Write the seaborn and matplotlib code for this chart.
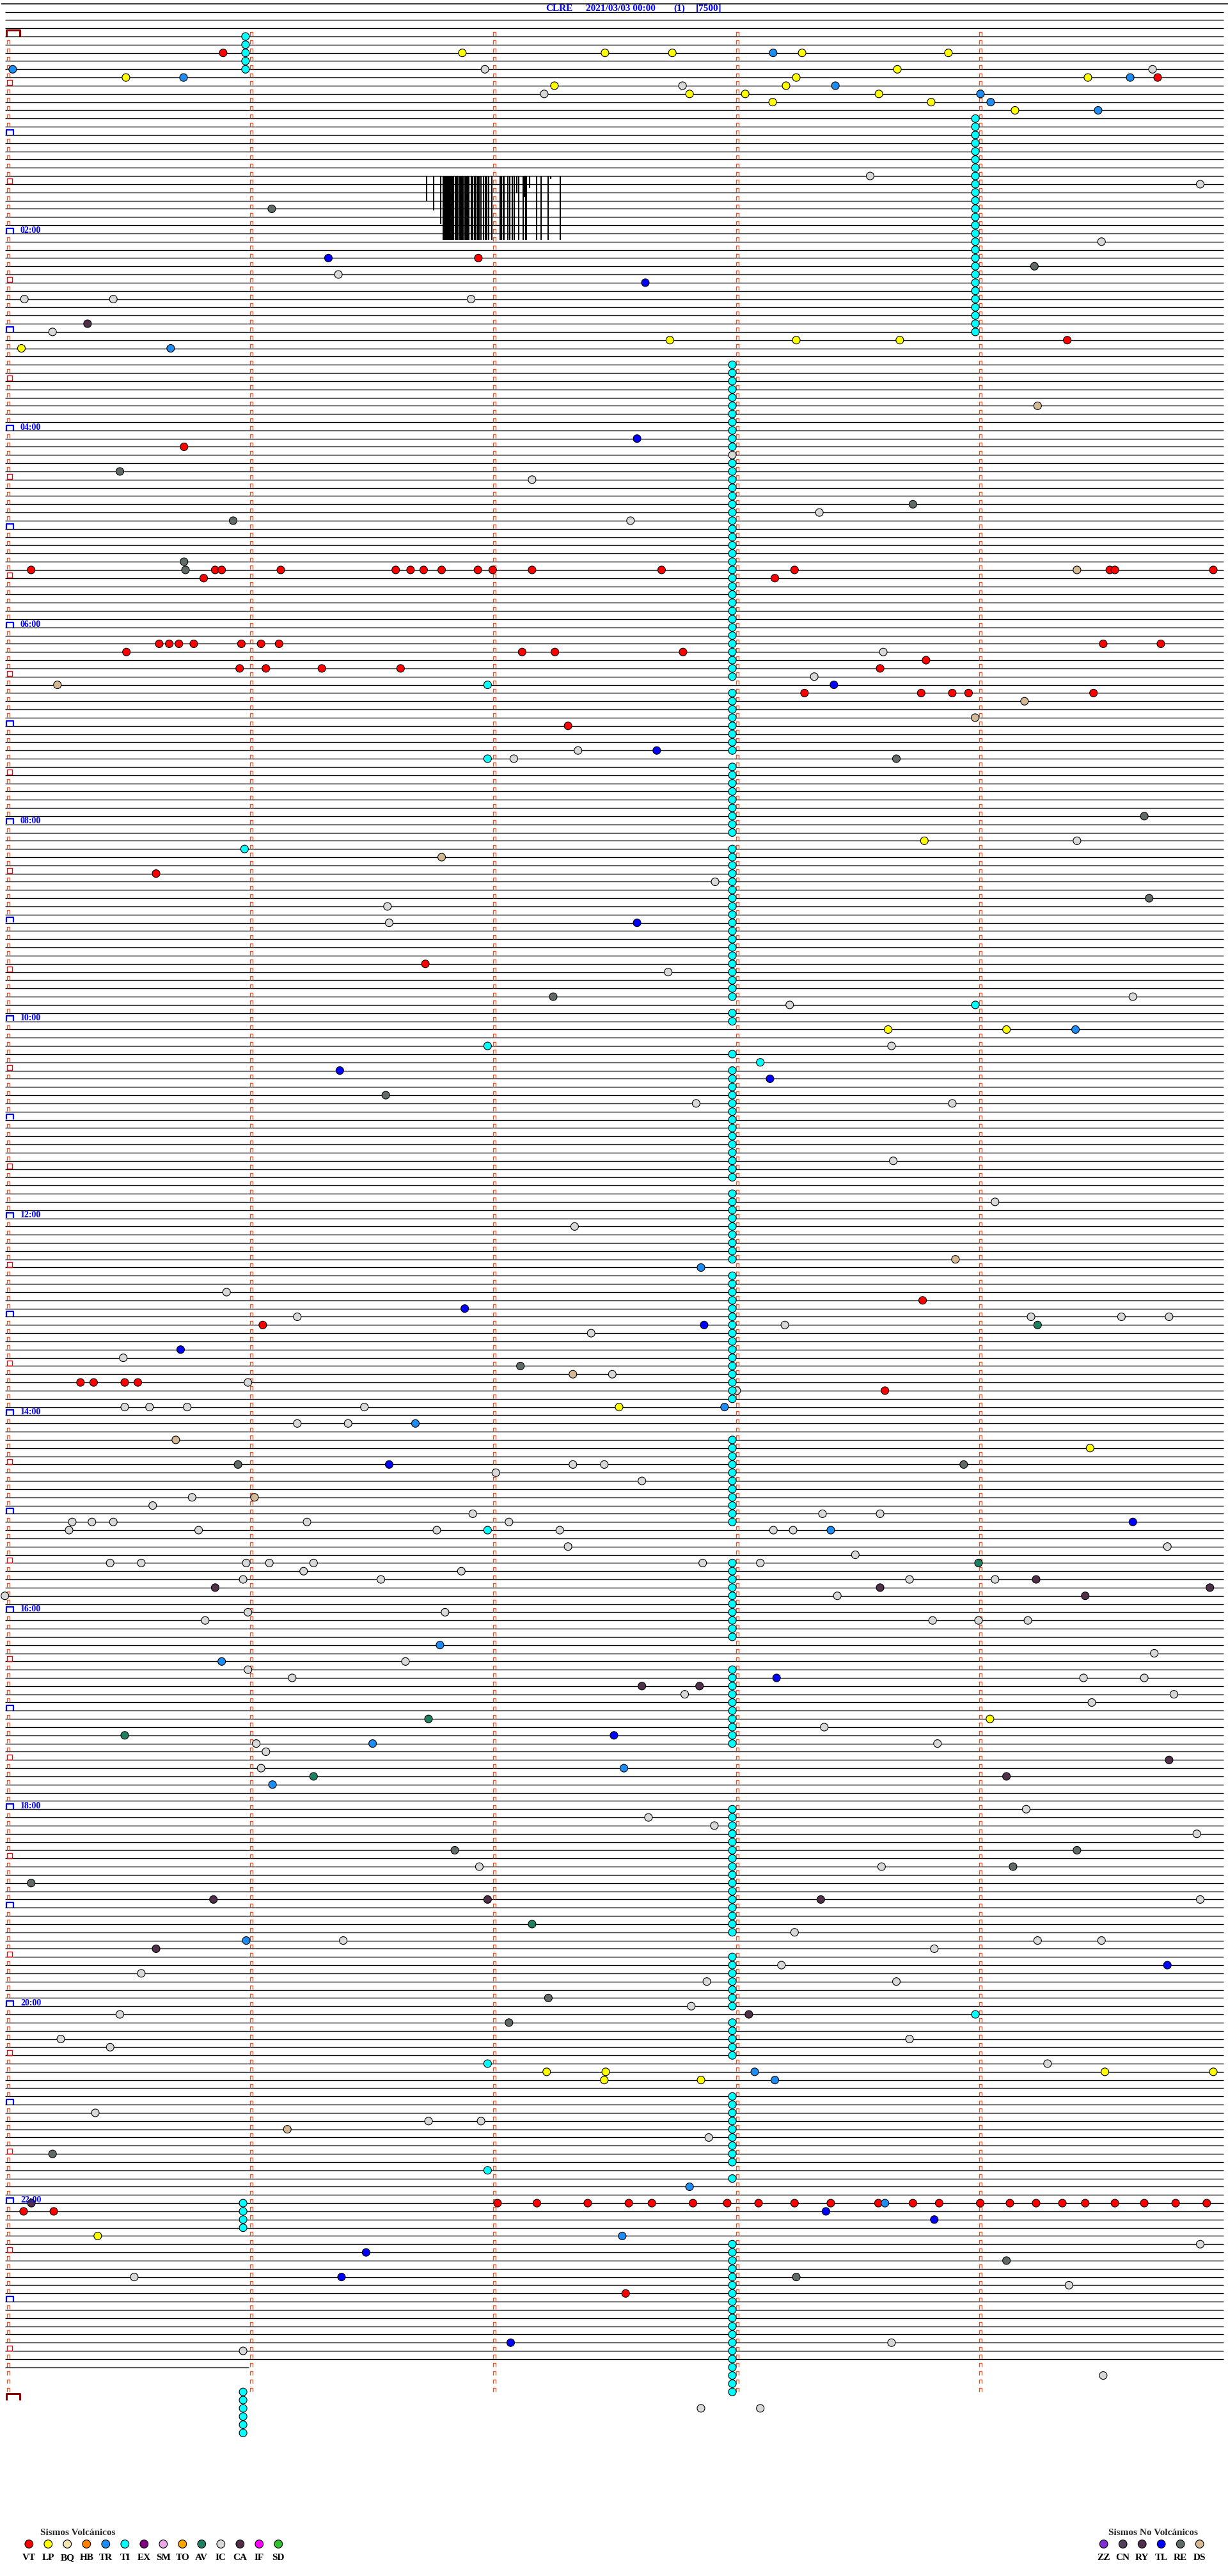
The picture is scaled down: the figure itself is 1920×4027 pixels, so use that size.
import numpy as np
import pandas as pd
import matplotlib
matplotlib.use("Agg")
import matplotlib.pyplot as plt
import seaborn as sns
from matplotlib.path import Path

sns.set_style("white")
plt.rcParams['font.family'] = ['Liberation Serif', 'DejaVu Serif']

# ---------------- data (row = 5-minute trace index from 00:00, minute = offset in row) -----
TITLE_PARTS = ["CLRE", "2021/03/03 00:00", "(1)", "[7500]"]
HOUR_LABELS = ["02:00", "04:00", "06:00", "08:00", "10:00", "12:00",
               "14:00", "16:00", "18:00", "20:00", "22:00"]
VOLC_CODES = ["VT", "LP", "BQ", "HB", "TR", "TI", "EX", "SM", "TO", "AV", "IC", "CA", "IF", "SD"]
NONVOLC_CODES = ["ZZ", "CN", "RY", "TL", "RE", "DS"]
COLORS = {"VT": "#FF0000", "LP": "#FFFF00", "BQ": "#F0E4B0", "HB": "#FF8000",
          "TR": "#1E8CF0", "TI": "#00FFFF", "EX": "#800080", "SM": "#E8A8E8",
          "TO": "#FFA500", "AV": "#1E8060", "IC": "#D8D8D8", "CA": "#503048",
          "IF": "#FF00FF", "SD": "#30C030", "ZZ": "#8030D0", "CN": "#504058",
          "RY": "#503050", "TL": "#0000FF", "RE": "#606A66", "DS": "#D4B894"}

TRACE_FIRST_ROW = -3
TRACE_LAST_ROW = 284
TRACE_LAST_END = 0.99     # minutes recorded in the last (partial) row

VT = [(2, 0.884), (5, 4.729), (27, 1.934), (37, 4.357), (50, 0.723),
      (65, 0.094), (65, 0.851), (65, 0.878), (65, 1.121), (65, 1.594), (65, 1.655),
      (65, 1.709), (65, 1.783), (65, 1.932), (65, 1.993), (65, 2.155), (65, 2.688),
      (65, 3.235), (65, 4.532), (65, 4.553), (65, 4.958), (66, 0.804), (66, 3.154),
      (74, 0.621), (74, 0.662), (74, 0.702), (74, 0.763), (74, 0.959), (74, 1.040),
      (74, 1.114), (74, 4.505), (74, 4.742), (75, 0.486), (75, 2.114), (75, 2.249),
      (75, 2.776), (76, 3.776), (77, 0.952), (77, 1.060), (77, 1.290), (77, 1.614),
      (77, 3.587), (80, 3.276), (80, 3.756), (80, 3.884), (80, 3.951), (80, 4.465),
      (84, 2.303), (102, 0.608), (113, 1.716), (154, 3.762), (157, 1.047),
      (164, 0.297), (164, 0.351), (164, 0.479), (164, 0.533), (165, 3.607),
      (264, 2.013), (264, 2.175), (264, 2.384), (264, 2.553), (264, 2.648), (264, 2.817),
      (264, 2.958), (264, 3.087), (264, 3.235), (264, 3.384), (264, 3.580), (264, 3.722),
      (264, 3.830), (264, 3.999), (264, 4.121), (264, 4.229), (264, 4.337), (264, 4.431),
      (264, 4.553), (264, 4.674), (264, 4.803), (264, 4.931),
      (265, 0.063), (265, 0.187), (275, 2.540)]

LP = [(2, 1.868), (2, 2.455), (2, 2.732), (2, 3.266), (2, 3.868), (4, 3.658),
      (5, 0.484), (5, 3.242), (5, 4.442), (6, 2.247), (6, 3.200), (7, 2.803),
      (7, 3.032), (7, 3.582), (8, 3.145), (8, 3.797), (9, 4.142), (37, 2.722),
      (37, 3.242), (37, 3.668), (38, 0.054), (98, 3.769), (121, 3.620), (121, 4.107),
      (167, 2.513), (172, 4.451), (205, 4.039), (248, 2.215), (248, 2.458),
      (248, 4.512), (248, 4.958), (249, 2.452), (249, 2.850), (268, 0.368)]

TR = [(2, 3.147), (4, 0.018), (5, 0.721), (5, 4.616), (6, 3.403), (7, 4.000),
      (8, 4.042), (9, 4.484), (38, 0.668), (121, 4.391), (150, 2.850), (167, 2.947),
      (169, 1.675), (182, 3.384), (196, 1.776), (198, 0.878), (208, 1.499),
      (211, 2.533), (213, 1.087), (232, 0.979), (248, 3.071), (249, 3.154),
      (262, 2.803), (264, 3.607), (268, 2.526)]

TL = [(27, 1.317), (30, 2.621), (49, 2.587), (79, 3.397), (87, 2.668), (108, 2.587),
      (126, 1.364), (127, 3.134), (155, 1.878), (157, 2.863), (160, 0.709),
      (174, 1.567), (181, 4.627), (200, 3.161), (207, 2.492), (235, 4.769),
      (265, 3.364), (266, 3.810), (270, 1.472), (273, 1.371), (281, 2.067)]

TI_COL_A_MIN = 0.976
TI_COL_A_ROWS = [0, 1, 2, 3, 4]
TI_COL_B_MIN = 3.979
TI_COL_B_ROWS = [10, 11, 12, 13, 14, 15, 16, 17, 18, 19, 20, 21, 22, 23, 24, 25, 26,
                 27, 28, 29, 30, 31, 32, 33, 34, 35, 36]
TI_COL_C_MIN = 2.979
TI_COL_C_ROWS = [40, 41, 42, 43, 44, 45, 46, 47, 48, 49, 50,
                 52, 53, 54, 55, 56, 57, 58, 59, 60, 61, 62, 63, 64, 65, 66, 67, 68, 69,
                 70, 71, 72, 73, 74, 75, 76, 77, 78,
                 80, 81, 82, 83, 84, 85, 86, 87,
                 89, 90, 91, 92, 93, 94, 95, 96, 97,
                 99, 100, 101, 102, 103, 104, 105, 106, 107, 108, 109, 110, 111, 112,
                 113, 114, 115, 116, 117, 119, 120, 124,
                 126, 127, 128, 129, 130, 131, 132, 133, 134, 135, 136, 137, 138, 139,
                 141, 142, 143, 144, 145, 146, 147, 148, 149,
                 151, 152, 153, 154, 155, 156, 157, 158, 159, 160, 161, 162, 163, 164,
                 165, 166,
                 171, 172, 173, 174, 175, 176, 177, 178, 179, 180, 181,
                 186, 187, 188, 189, 190, 191, 192, 193, 194, 195,
                 199, 200, 201, 202, 203, 204, 205, 206, 207, 208,
                 216, 217, 218, 219, 220, 221, 222, 223, 224, 225, 226, 227, 228, 229,
                 230, 231,
                 234, 235, 236, 237, 238, 239, 240,
                 242, 243, 244, 245, 246,
                 251, 252, 253, 254, 255, 256, 257, 258, 259,
                 261,
                 269, 270, 271, 272, 273, 274, 275, 276, 277, 278, 279, 280, 281, 282,
                 283, 284, 285, 286, 287]
TI_COL_D_MIN = 0.966
TI_COL_D_ROWS = [264, 265, 266, 267, 287, 288, 289, 290, 291, 292]
TI_OTHER = [(79, 1.972), (88, 1.972), (99, 0.972), (118, 3.979), (123, 1.972),
            (125, 3.094), (182, 1.972), (241, 3.979), (247, 1.972), (260, 1.972)]

IC = [(4, 1.961), (4, 4.708), (6, 2.774), (7, 2.205), (17, 3.546), (18, 4.904),
      (25, 4.498), (29, 1.358), (32, 0.066), (32, 0.432), (32, 1.904), (36, 0.182),
      (51, 2.979), (54, 2.155), (58, 3.337), (59, 2.560), (75, 3.600), (78, 3.316),
      (87, 2.344), (88, 2.080), (98, 4.397), (103, 2.908), (106, 1.560), (108, 1.567),
      (114, 2.715), (117, 4.627), (118, 3.215), (123, 3.634), (130, 2.830),
      (130, 3.884), (137, 3.641), (142, 4.060), (145, 2.330), (153, 0.898),
      (156, 1.189), (156, 4.208), (156, 4.580), (156, 4.776), (157, 3.195),
      (158, 2.398), (161, 0.473), (163, 2.485), (164, 0.986), (165, 2.997),
      (167, 0.479), (167, 0.581), (167, 0.736), (167, 1.465), (169, 1.189),
      (169, 1.398), (174, 2.323), (174, 2.452), (175, 2.006), (176, 2.607),
      (178, 0.756), (179, 0.594), (180, 1.911), (180, 3.350), (180, 3.587),
      (181, 0.263), (181, 0.344), (181, 0.432), (181, 1.229), (181, 2.060),
      (182, 0.250), (182, 0.783), (182, 1.763), (182, 2.269), (182, 3.148),
      (182, 3.229), (184, 2.303), (184, 4.769), (185, 3.485), (186, 0.419),
      (186, 0.547), (186, 0.979), (186, 1.074), (186, 1.256), (186, 2.857),
      (186, 3.094), (187, 1.215), (187, 1.864), (188, 0.966), (188, 1.533),
      (188, 3.708), (188, 4.060), (190, 3.411), (190, -0.014), (192, 1.797),
      (192, 0.986), (193, 0.810), (193, 3.803), (193, 3.992), (193, 4.195),
      (197, 4.715), (198, 1.634), (199, 0.986), (200, 1.168), (200, 4.424),
      (200, 4.674), (202, 4.796), (202, 2.783), (203, 4.458), (206, 3.357),
      (208, 1.020), (208, 3.823), (209, 1.060), (211, 1.040), (216, 4.188),
      (217, 2.634), (218, 2.905), (219, 4.890), (223, 1.938), (223, 3.593),
      (227, 4.904), (231, 3.235), (232, 1.378), (232, 4.235), (232, 4.498),
      (233, 3.810), (235, 3.181), (236, 0.547), (237, 3.654), (237, 2.874),
      (240, 2.810), (241, 0.459), (244, 0.216), (244, 3.708), (245, 0.419),
      (247, 4.276), (253, 0.358), (254, 1.729), (254, 1.945), (256, 2.882),
      (269, 4.904), (273, 0.518), (274, 4.364), (281, 3.634), (282, 0.966),
      (285, 4.505), (289, 2.850), (289, 3.094)]

RE = [(21, 1.084), (28, 4.222), (53, 0.459), (57, 3.722), (59, 0.925), (64, 0.723),
      (65, 0.729), (88, 3.654), (95, 4.674), (105, 4.694), (117, 2.242), (129, 1.553),
      (162, 2.107), (174, 0.945), (174, 3.931), (221, 1.837), (221, 4.397),
      (223, 4.134), (225, 0.094), (239, 2.222), (242, 2.060), (258, 0.182),
      (271, 4.107), (273, 3.242)]

CA = [(35, 0.326), (188, 4.229), (189, 0.851), (189, 3.587), (189, 4.944),
      (190, 4.431), (201, 2.607), (201, 2.844), (210, 4.776), (212, 4.107),
      (227, 0.844), (227, 1.972), (227, 3.343), (233, 0.608), (241, 3.047),
      (264, 0.095)]

DS = [(45, 4.235), (65, 4.397), (79, 0.202), (81, 4.181), (83, 3.978), (100, 1.783),
      (149, 3.897), (163, 2.323), (171, 0.689), (178, 1.013), (255, 1.148)]

AV = [(157, 4.235), (186, 3.992), (205, 1.729), (207, 0.479), (212, 1.256),
      (230, 2.155)]

# clipped high-amplitude signal (row 17): position in minutes and lower end in rows
BURST_TOP_ROW = 17.0
BURST_MIN = [1.720, 1.751, 1.780, 1.789, 1.794, 1.799, 1.804, 1.808, 1.812, 1.817,
             1.821, 1.827, 1.832, 1.839, 1.845, 1.850, 1.857, 1.861, 1.864, 1.868,
             1.871, 1.878, 1.883, 1.889, 1.894, 1.904, 1.911, 1.918, 1.925, 1.931,
             1.938, 1.945, 1.955, 1.962, 1.969, 1.976, 1.989, 2.023, 2.029, 2.036,
             2.040, 2.055, 2.064, 2.073, 2.082, 2.093, 2.101, 2.119, 2.125, 2.129,
             2.132, 2.144, 2.175, 2.191, 2.220, 2.232, 2.271]
BURST_BOTTOM = [20.03, 21.2, 22.8, 24.82, 24.82, 24.82, 24.82, 24.82, 24.82, 24.82,
                24.82, 24.82, 24.82, 24.82, 24.82, 24.82, 24.82, 24.82, 24.82, 24.82,
                24.82, 24.82, 24.82, 24.82, 24.82, 24.82, 24.82, 24.82, 24.82, 24.82,
                24.82, 24.82, 24.82, 24.82, 24.82, 24.82, 24.82, 24.82, 24.82, 24.82,
                24.82, 24.82, 24.82, 24.82, 24.82, 19.1, 24.82, 24.82, 19.6, 24.82,
                24.82, 18.5, 24.82, 24.82, 24.82, 17.4, 24.82]

# ---------------- geometry ----------------
W, H = 1920, 4027
ROW0_Y, ROW_H = 57.0, 12.83
X0, PX_PER_MIN = 13.0, 380.0


def px_x(p):
    return (p - X0) / PX_PER_MIN


def px_y(p):
    return (p - ROW0_Y) / ROW_H


fig = plt.figure(figsize=(W / 100, H / 100), dpi=100)
ax = fig.add_axes([0, 0, 1, 1])

# ---------------- trace lines ----------------
rows_full = np.arange(TRACE_FIRST_ROW, TRACE_LAST_ROW)
ax.hlines(rows_full, px_x(8), 5.0, color="black", lw=0.95, zorder=1)
ax.hlines([TRACE_LAST_ROW], px_x(8), TRACE_LAST_END, color="black", lw=0.95, zorder=1)
ax.hlines([px_y(6)], px_x(2), px_x(1920), color="black", lw=1.1, zorder=1)

# burst
ax.vlines(BURST_MIN, BURST_TOP_ROW, BURST_BOTTOM, color="black", lw=1.5, zorder=1)

# ---------------- minute tick markers ----------------
def bracket(wfrac):
    h = 0.5
    w = 0.5 * wfrac
    return Path([(-w, -h), (-w, h), (w, h), (w, -h)],
                [Path.MOVETO, Path.LINETO, Path.LINETO, Path.LINETO])


orange_path = bracket(0.8)
n_rows_marked = 288
mark_rows = np.arange(0, n_rows_marked)
PT = 72 / 100.0
for col in range(5):
    rr = mark_rows if col > 0 else mark_rows[mark_rows % 6 != 0]
    ax.plot(np.full(len(rr), float(col)), rr - 3.5 / ROW_H, ls="none",
            marker=orange_path, ms=6 * PT, mfc="none", mec="#FF4A10", mew=1.0, zorder=2)

# half-hour red squares
hh = mark_rows[mark_rows % 12 == 6]
ax.plot(np.full(len(hh), px_x(14.7)), hh - 4.5 / ROW_H, ls="none", marker="s",
        ms=8.5 * PT, mfc="none", mec="#FF0000", mew=1.0, zorder=2)
# hour blue brackets
hr = mark_rows[(mark_rows % 12 == 0) & (mark_rows > 0)]
ax.plot(np.full(len(hr), px_x(15)), hr - 4.2 / ROW_H, ls="none",
        marker=bracket(11 / 8), ms=11 * PT, mfc="none", mec="#0000FF", mew=1.6, zorder=2)
# day start/end dark-red brackets
ax.plot([px_x(20), px_x(20)], [0 - 5 / ROW_H, 288 - 5 / ROW_H], ls="none",
        marker=bracket(21 / 10), ms=21 * PT, mfc="none", mec="#8B0000", mew=2.2, zorder=2)

# hour labels
for i, lab in enumerate(HOUR_LABELS):
    r = (i + 1) * 24
    ax.text(px_x(32), r - 1.2 / ROW_H, lab, color="#0000FF", fontsize=10,
            fontweight="bold", ha="left", va="baseline", zorder=4)

# ---------------- events ----------------
records = []
for code, lst in [("VT", VT), ("LP", LP), ("TR", TR), ("TL", TL), ("IC", IC),
                  ("RE", RE), ("CA", CA), ("DS", DS), ("AV", AV), ("TI", TI_OTHER)]:
    for r, m in lst:
        records.append((code, r, m))
for rows, m in [(TI_COL_A_ROWS, TI_COL_A_MIN), (TI_COL_B_ROWS, TI_COL_B_MIN),
                (TI_COL_C_ROWS, TI_COL_C_MIN), (TI_COL_D_ROWS, TI_COL_D_MIN)]:
    for r in rows:
        records.append(("TI", r, m))
df = pd.DataFrame(records, columns=["type", "row", "minute"])

sns.scatterplot(data=df, x="minute", y="row", hue="type", palette=COLORS,
                s=(12 * PT) ** 2, edgecolor="black", linewidth=0.8, legend=False,
                ax=ax, zorder=3)

# ---------------- legend ----------------
leg_y = 3977
vx = [45.3 + 30 * i for i in range(len(VOLC_CODES))]
nx = [1725.7 + 30 * i for i in range(len(NONVOLC_CODES))]
leg = pd.DataFrame({"x": [px_x(v) for v in vx + nx],
                    "y": [px_y(leg_y)] * (len(vx) + len(nx)),
                    "type": VOLC_CODES + NONVOLC_CODES})
sns.scatterplot(data=leg, x="x", y="y", hue="type", palette=COLORS,
                s=(12.7 * PT) ** 2, edgecolor="black", linewidth=0.8, legend=False,
                ax=ax, zorder=3)
for x, c in zip(vx + nx, VOLC_CODES + NONVOLC_CODES):
    ax.text(px_x(x), px_y(4002), c, fontsize=11, fontweight="bold", ha="center",
            va="baseline", color="black")
ax.text(px_x(63), px_y(3963), "Sismos Volcánicos", fontsize=11, fontweight="bold",
        ha="left", va="baseline")
ax.text(px_x(1733), px_y(3963), "Sismos No Volcánicos", fontsize=11,
        fontweight="bold", ha="left", va="baseline")

# ---------------- title ----------------
for x, t in zip([853, 916, 1053, 1088], TITLE_PARTS):
    ax.text(px_x(x), px_y(17), t, fontsize=11, fontweight="bold", color="#0000FF",
            ha="left", va="baseline")

ax.set_xlim(px_x(0), px_x(W))
ax.set_ylim(px_y(H), px_y(0))
ax.axis("off")
fig.savefig("out.png", dpi=100, facecolor="white")
